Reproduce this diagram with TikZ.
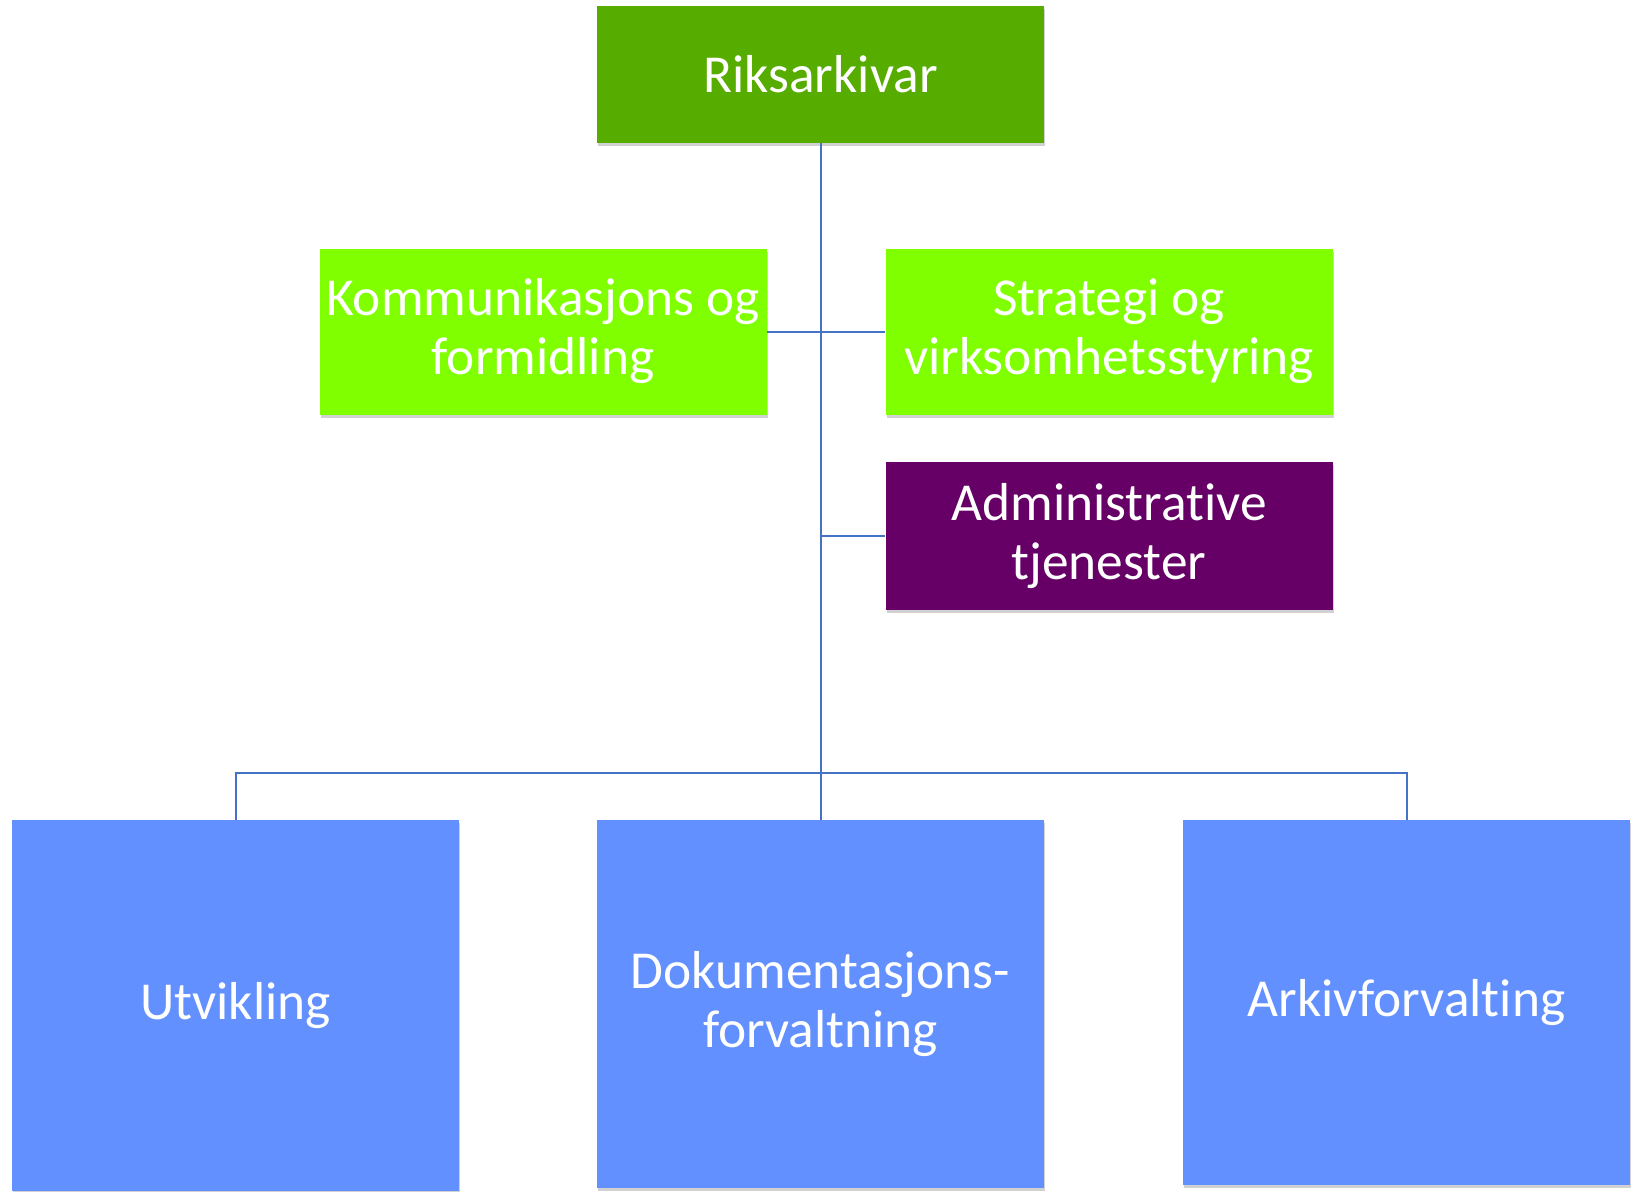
\documentclass[tikz,border=0pt]{standalone}
\usepackage{fontspec}
\setmainfont{Carlito}[Ligatures={NoCommon,NoRare}, Contextuals=NoAlternate]
\usetikzlibrary{positioning, shadows}

\definecolor{riksgreen}{HTML}{57AC00}
\definecolor{lightgreen}{HTML}{80FF00}
\definecolor{adminpurple}{HTML}{660066}
\definecolor{avdblue}{HTML}{6390FF}
\definecolor{linkblue}{HTML}{4472C4}

\tikzset{
  orgbox/.style={draw=none, text=white, align=center, inner sep=0pt,
    minimum width=223.5pt, font=\fontsize{26.7}{29.5}\selectfont,
    drop shadow={shadow xshift=0.6pt, shadow yshift=-1.6pt, opacity=0.3, fill=black!60}},
  link/.style={linkblue, line width=1pt}
}

\begin{document}
\begin{tikzpicture}[x=0.5pt, y=-0.5pt]
\useasboundingbox (0,0) rectangle (1637,1191);
% Ledelse og staber
\node[orgbox, fill=riksgreen, minimum height=68.5pt] (riks) at (820.5,74.5) {Riksarkivar};
\node[orgbox, fill=lightgreen, minimum height=83pt] (komm) at (543,331.5) {Kommunikasjons og\\formidling};
\node[orgbox, fill=lightgreen, minimum height=83pt] (strat) at (1109,331.5) {Strategi og\\virksomhetsstyring};
\node[orgbox, fill=adminpurple, minimum height=74pt] (admin) at (1109,536) {Administrative\\tjenester};
% Avdelinger
\foreach \n/\x/\y/\h/\t in {utv/235.5/1005.5/185.5/Utvikling,
    dok/820.5/1004/184/{Dokumentasjons-\\forvaltning},
    arkiv/1406.5/1002.5/182.5/Arkivforvalting} {
  \node[orgbox, fill=avdblue, minimum height=\h pt] (\n) at (\x,\y) {\t};
}
% Linjer
\coordinate (kj) at (820.5,331.5);
\coordinate (aj) at (820.5,536);
\coordinate (bus) at (820.5,772.5);
\begin{scope}[on background layer/.try]
\draw[link] (riks.south) -- (dok.north);
\draw[link] (komm.east) -- (kj) -- (strat.west);
\draw[link] (admin.west) -- (aj);
\draw[link] (utv.north) |- (bus) -| (arkiv.north);
\end{scope}
\end{tikzpicture}
\end{document}
